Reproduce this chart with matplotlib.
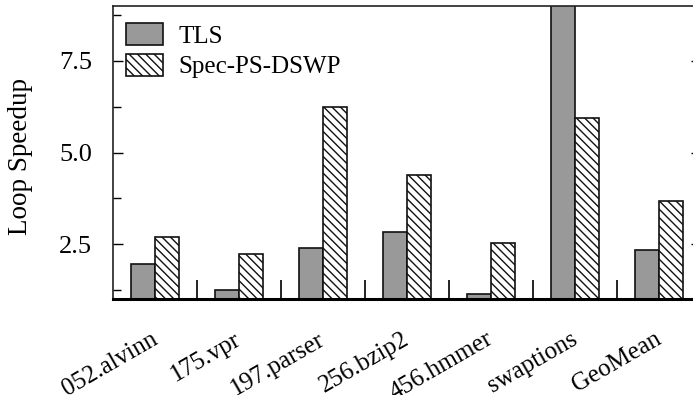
import matplotlib
matplotlib.use("Agg")
import matplotlib.pyplot as plt
import numpy as np
from matplotlib.ticker import FixedLocator, NullFormatter
from matplotlib.transforms import ScaledTranslation

plt.rcParams['font.family'] = ['Liberation Serif', 'DejaVu Serif']
plt.rcParams['hatch.linewidth'] = 1.0

benchmarks = ["052.alvinn", "175.vpr", "197.parser", "256.bzip2",
              "456.hmmer", "swaptions", "GeoMean"]
tls = [1.96, 1.25, 2.39, 2.83, 1.14, 9.6, 2.34]
spec_ps_dswp = [2.69, 2.22, 6.23, 4.38, 2.54, 5.94, 3.67]

FS = 18

fig = plt.figure(figsize=(6.93, 3.95), dpi=100)
ax = fig.add_axes([0.1631, 0.243, 0.8485, 0.7418])

x = np.arange(len(benchmarks))
w = 0.286
ax.bar(x - w / 2, tls, width=w, color="#999999", edgecolor="#111111",
       linewidth=1.2, label="TLS", zorder=2)
ax.bar(x + w / 2, spec_ps_dswp, width=w, color="white", edgecolor="#111111",
       linewidth=1.2, hatch="\\\\\\\\", label="Spec-PS-DSWP", zorder=2)

ax.set_xlim(-0.5, len(benchmarks) - 0.5)
ax.set_ylim(1.0, 9.0)

# y axis: labelled ticks every 2.5, unlabelled ticks halfway between
ax.yaxis.set_major_locator(FixedLocator([2.5, 5.0, 7.5]))
ax.yaxis.set_minor_locator(FixedLocator([1.25, 3.75, 6.25, 8.75]))
ax.set_yticklabels(["2.5", "5.0", "7.5"])
ax.tick_params(axis="y", which="major", direction="in", length=7, width=1,
               labelsize=19, pad=15, right=True)
ax.tick_params(axis="y", which="minor", direction="in", length=6, width=1)

# x axis: names under groups, separator ticks between groups
ax.set_xticks(x)
ax.set_xticklabels(benchmarks, rotation=30, ha="right", rotation_mode="anchor")
ax.xaxis.set_minor_locator(FixedLocator(x[:-1] + 0.5))
ax.xaxis.set_minor_formatter(NullFormatter())
ax.tick_params(axis="x", which="major", length=0, labelsize=FS, pad=21)
ax.tick_params(axis="x", which="minor", direction="in", length=14, width=1.2)
shift = ScaledTranslation(-0.05, 0.0, fig.dpi_scale_trans)
for lbl in ax.get_xticklabels():
    lbl.set_transform(lbl.get_transform() + shift)

ax.set_ylabel("Loop Speedup", fontsize=19.5)
ax.yaxis.set_label_coords(-0.136, 0.488)

for side in ("left", "top", "right"):
    ax.spines[side].set_linewidth(1.2)
    ax.spines[side].set_color("#222222")
ax.spines["bottom"].set_linewidth(2.2)

ax.legend(loc="upper left", frameon=False, fontsize=FS, handlelength=1.5,
          handleheight=0.95, handletextpad=0.6, labelspacing=0.25,
          borderaxespad=0.0, bbox_to_anchor=(0.005, 0.975))

fig.savefig("out.png", dpi=100)
